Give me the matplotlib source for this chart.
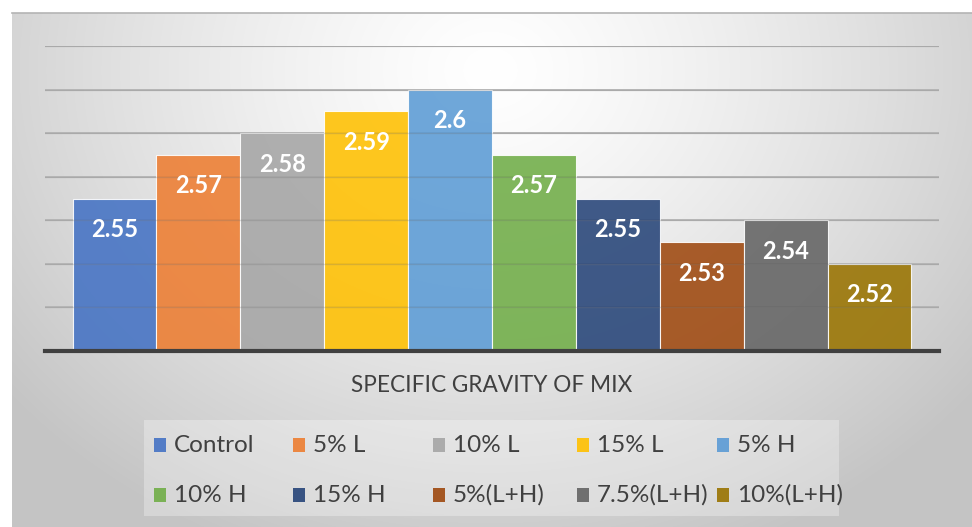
import numpy as np
import matplotlib
matplotlib.use("Agg")
import matplotlib.pyplot as plt
from matplotlib.patches import Rectangle

plt.rcParams['font.family'] = ['Lato', 'DejaVu Sans']

# specific gravity for each mix
mixes = ['Control', '5% L', '10% L', '15% L', '5% H',
         '10% H', '15% H', '5%(L+H)', '7.5%(L+H)', '10%(L+H)']
gravity = [2.55, 2.57, 2.58, 2.59, 2.6, 2.57, 2.55, 2.53, 2.54, 2.52]
colors = ['#4472C4', '#ED7D31', '#A5A5A5', '#FFC000', '#5B9BD5',
          '#70AD47', '#264478', '#9E480E', '#636363', '#997300']
yticks = [2.48, 2.50, 2.52, 2.54, 2.56, 2.58, 2.60, 2.62]

W, H = 972, 527
fig = plt.figure(figsize=(W / 100, H / 100), dpi=100)

# grey radial backdrop of the chart area
bg = fig.add_axes([12 / W, 0, 1 - 12 / W, (H - 13) / H])
xx, yy = np.meshgrid(np.arange(12, W), np.arange(13, H))
r = np.sqrt(((xx - 490) / 620.0) ** 2 + ((yy - 70) / 520.0) ** 2)
shade = 1.0 - 0.23 * np.clip(r, 0, 1) ** 1.3
bg.imshow(np.dstack([shade] * 3), aspect='auto', interpolation='bilinear')
bg.axis('off')
fig.add_artist(plt.Line2D([12 / W, 1], [1 - 13 / H] * 2, color='#b4b4b4', lw=1.2))

ax = fig.add_axes([45 / W, 1 - 351 / H, 894 / W, 305 / H])
ax.patch.set_alpha(0)
x = np.arange(len(mixes))
bars = ax.bar(x, gravity, width=1.0, bottom=0, color=colors, alpha=0.88,
              edgecolor='white', linewidth=0.8, zorder=2)
ax.set_ylim(2.48, 2.62)
ax.set_xlim(-0.828, 9.828)
for t in yticks[1:]:
    ax.axhline(t, color='#b8b8b8', lw=1.4, zorder=1)
    ax.axhline(t, color='#808080', lw=1.0, alpha=0.25, zorder=3)
ax.axhline(2.48, color='#404040', lw=3, zorder=4, clip_on=False)
for s in ax.spines.values():
    s.set_visible(False)
ax.set_xticks([])
ax.set_yticks([])

for xi, v in zip(x, gravity):
    ax.annotate(f'{v:g}', (xi, v), xytext=(0, -31), textcoords='offset pixels',
                ha='center', va='center', color='white', fontsize=17,
                fontweight='bold', zorder=5)

fig.text(492 / W, 1 - 385 / H, 'SPECIFIC GRAVITY OF MIX', ha='center', va='center',
         fontsize=16.3, color='#404040')

# legend box, two rows of five
fig.add_artist(Rectangle((144 / W, 1 - 516 / H), 695 / W, 96 / H,
                         transform=fig.transFigure, facecolor='white',
                         alpha=0.3, edgecolor='none'))
col_x = [160, 299, 439, 583, 723]
row_y = [445, 495]
for i, (name, c) in enumerate(zip(mixes, colors)):
    cx = col_x[i % 5]
    cy = row_y[i // 5]
    fig.add_artist(Rectangle(((cx - 6) / W, 1 - (cy + 7) / H), 12 / W, 14 / H,
                             transform=fig.transFigure, facecolor=c, alpha=0.9,
                             edgecolor='none'))
    fig.text((cx + 14) / W, 1 - cy / H, name, ha='left', va='center',
             fontsize=17.5, color='#404040')

fig.savefig('out.png', dpi=100, facecolor='white')
